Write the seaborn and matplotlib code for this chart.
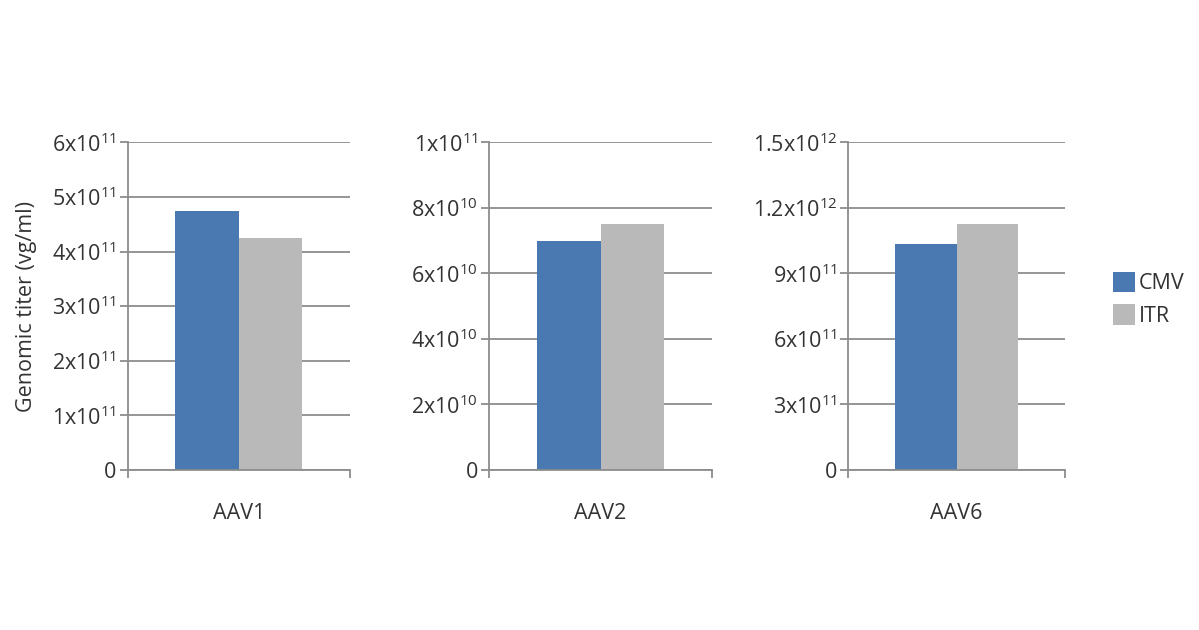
import pandas as pd
import matplotlib.pyplot as plt
import seaborn as sns

# values
serotypes = ["AAV1", "AAV2", "AAV6"]
promoters = ["CMV", "ITR"]
cmv_titer = [4.74e11, 7.0e10, 1.034e12]
itr_titer = [4.24e11, 7.5e10, 1.126e12]

ytick_values = [
    [0, 1e11, 2e11, 3e11, 4e11, 5e11, 6e11],
    [0, 2e10, 4e10, 6e10, 8e10, 1e11],
    [0, 3e11, 6e11, 9e11, 1.2e12, 1.5e12],
]
ytick_labels = [
    ["0", "1x10^{11}", "2x10^{11}", "3x10^{11}", "4x10^{11}", "5x10^{11}", "6x10^{11}"],
    ["0", "2x10^{10}", "4x10^{10}", "6x10^{10}", "8x10^{10}", "1x10^{11}"],
    ["0", "3x10^{11}", "6x10^{11}", "9x10^{11}", "1.2x10^{12}", "1.5x10^{12}"],
]

palette = {"CMV": "#4a79b1", "ITR": "#b9b9b9"}
text_color = "#333333"
line_color = "#8c8c8c"

sns.set_theme(style="white")
plt.rcParams["font.family"] = ["Open Sans", "DejaVu Sans"]
plt.rcParams["mathtext.fontset"] = "custom"
plt.rcParams["mathtext.rm"] = "Open Sans"

fig = plt.figure(figsize=(11.99, 6.3), dpi=100)

# axes boxes in figure fractions
boxes = [
    [0.1065, 0.254, 0.1854, 0.520],
    [0.4081, 0.254, 0.1855, 0.520],
    [0.7075, 0.254, 0.1807, 0.520],
]

for i, name in enumerate(serotypes):
    ax = fig.add_axes(boxes[i])
    df = pd.DataFrame({
        "Serotype": [name, name],
        "Promoter": promoters,
        "Titer": [cmv_titer[i], itr_titer[i]],
    })

    sns.barplot(
        data=df,
        x="Serotype",
        y="Titer",
        hue="Promoter",
        hue_order=promoters,
        palette=palette,
        width=0.57,
        saturation=1,
        linewidth=0,
        legend=(i == 2),
        ax=ax
    )

    ax.set_xlim(-0.5, 0.5)
    ax.set_ylim(0, ytick_values[i][-1])
    ax.set_yticks(ytick_values[i])
    ax.set_yticklabels([
        lab if lab == "0" else "$\\mathregular{" + lab + "}$"
        for lab in ytick_labels[i]
    ])

    ax.set_axisbelow(True)
    ax.yaxis.grid(True, color=line_color, linewidth=1.3)
    ax.xaxis.grid(False)

    for side in ["top", "right"]:
        ax.spines[side].set_visible(False)
    for side in ["left", "bottom"]:
        ax.spines[side].set_color(line_color)
        ax.spines[side].set_linewidth(1.3)

    ax.tick_params(axis="y", left=True, length=6, width=1.3, color=line_color,
                   labelsize=15.5, labelcolor=text_color, pad=2)
    ax.set_xticks([0])
    ax.set_xticklabels([name])
    ax.set_xticks([-0.5, 0.5], minor=True)
    ax.tick_params(axis="x", which="major", length=0, labelsize=15.5,
                   labelcolor=text_color, pad=24)
    ax.tick_params(axis="x", which="minor", bottom=True, length=6, width=1.3,
                   color=line_color)

    ax.set_xlabel("")
    if i == 0:
        ax.set_ylabel("Genomic titer (vg/ml)", fontsize=15.5, color=text_color,
                      labelpad=11)
    else:
        ax.set_ylabel("")

    if i == 2:
        handles, labels = ax.get_legend_handles_labels()
        ax.get_legend().remove()
        fig.legend(
            handles, labels,
            loc="center left",
            bbox_to_anchor=(0.9195, 0.525),
            frameon=False,
            fontsize=15.5,
            handlelength=1.0,
            handleheight=1.1,
            handletextpad=0.2,
            labelspacing=0.45,
            labelcolor=text_color,
            borderpad=0
        )

fig.savefig("out.png", dpi=100)
